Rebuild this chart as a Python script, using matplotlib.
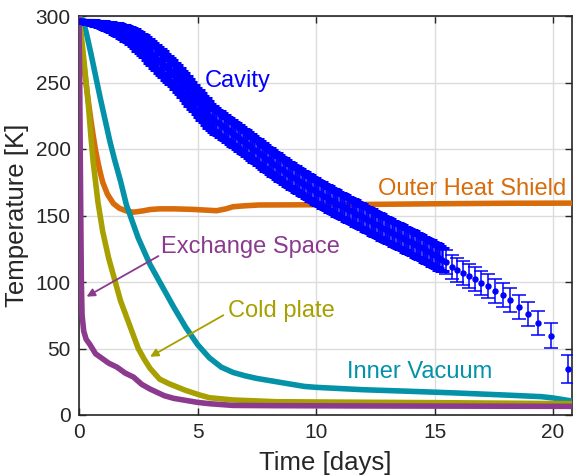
import matplotlib
matplotlib.use('Agg')
import matplotlib.pyplot as plt

plt.rcParams['font.family'] = ['Liberation Sans', 'DejaVu Sans']

# Cavity: measured points with error bars
t_cav = [0.0, 0.1, 0.2, 0.3, 0.4, 0.5, 0.6, 0.7, 0.8, 0.9,
         1.0, 1.1, 1.2, 1.3, 1.4, 1.5, 1.6, 1.7, 1.8, 1.9,
         2.0, 2.1, 2.2, 2.3, 2.4, 2.5, 2.6, 2.7, 2.8, 2.9,
         3.0, 3.1, 3.2, 3.3, 3.4, 3.5, 3.6, 3.7, 3.8, 3.9,
         4.0, 4.1, 4.2, 4.3, 4.4, 4.5, 4.6, 4.7, 4.8, 4.9,
         5.0, 5.1, 5.2, 5.3, 5.4, 5.5, 5.6, 5.7, 5.8, 5.9,
         6.0, 6.1, 6.2, 6.3, 6.4, 6.5, 6.6, 6.7, 6.8, 6.9,
         7.0, 7.1, 7.2, 7.3, 7.4, 7.5, 7.6, 7.7, 7.8, 7.9,
         8.0, 8.1, 8.2, 8.3, 8.4, 8.5, 8.6, 8.7, 8.8, 8.9,
         9.0, 9.1, 9.2, 9.3, 9.4, 9.5, 9.6, 9.7, 9.8, 9.9,
         10.0, 10.1, 10.2, 10.3, 10.4, 10.5, 10.6, 10.7, 10.8, 10.9,
         11.0, 11.1, 11.2, 11.3, 11.4, 11.5, 11.6, 11.7, 11.8, 11.9,
         12.0, 12.1, 12.2, 12.3, 12.4, 12.5, 12.6, 12.7, 12.8, 12.9,
         13.0, 13.1, 13.2, 13.3, 13.4, 13.5, 13.6, 13.7, 13.8, 13.9,
         14.0, 14.1, 14.2, 14.3, 14.4, 14.5, 14.6, 14.7, 14.8, 14.9,
         15.0, 15.1, 15.2, 15.3,
         15.49, 15.72, 15.96, 16.2, 16.44, 16.72, 16.97, 17.26, 17.57, 17.88,
         18.2, 18.57, 18.93, 19.38, 19.9, 20.65]
T_cav = [296, 296, 296, 295.8, 295.6, 295.3, 295, 294.7, 294.4, 294,
         293.5, 293.0, 292.5, 292.0, 291.4, 290.8, 290.1, 289.4, 288.6, 287.8,
         287.0, 285.9, 284.8, 283.6, 282.3, 281.0, 279.6, 278.1, 276.5, 274.8,
         273.0, 271.3, 269.6, 267.9, 266.2, 264.5, 262.8, 261.1, 259.4, 257.7,
         256.0, 254.0, 252.0, 250.0, 247.9, 245.8, 243.7, 241.6, 239.4, 237.2,
         235.0, 233.0, 231.0, 229.0, 227.0, 225.0, 223.5, 222.0, 220.6, 219.3,
         218.0, 216.7, 215.4, 214.1, 212.8, 211.5, 210.2, 208.9, 207.6, 206.3,
         205.0, 203.6, 202.3, 200.9, 199.6, 198.2, 196.9, 195.5, 194.2, 192.8,
         191.5, 190.2, 189.0, 187.7, 186.5, 185.2, 184.0, 182.7, 181.5, 180.2,
         179.0, 177.9, 176.8, 175.7, 174.6, 173.5, 172.4, 171.3, 170.2, 169.1,
         168.0, 167.0, 166.0, 165.0, 164.0, 163.0, 162.0, 161.0, 160.0, 159.0,
         158.0, 157.0, 156.1, 155.1, 154.2, 153.2, 152.3, 151.3, 150.4, 149.4,
         148.5, 147.5, 146.6, 145.6, 144.7, 143.7, 142.8, 141.8, 140.9, 139.9,
         139.0, 138.1, 137.2, 136.3, 135.4, 134.5, 133.6, 132.7, 131.8, 130.9,
         130.0, 129.0, 128.1, 127.1, 126.2, 125.2, 124.3, 123.3, 122.4, 121.4,
         120.5, 119.3, 118.1, 116.9,
         115, 111.5, 109.3, 107, 104.5, 102, 99.5, 96.7, 93.5, 90,
         86.2, 81.4, 76.2, 69.4, 59.6, 34.6]
err_cav = [0.5, 0.7, 0.9, 1.1, 1.3, 1.5, 1.7, 1.9, 2.1, 2.3,
           2.5, 2.8, 3.1, 3.4, 3.7, 4.0, 4.3, 4.6, 4.9, 5.2,
           5.5, 5.8, 6.1, 6.4, 6.7, 7.0, 7.2, 7.4, 7.6, 7.8,
           8.0, 8.2, 8.4, 8.6, 8.8, 9, 9, 9, 9, 9,
           9, 9, 9, 9, 9, 9, 9, 9, 9, 9,
           9, 9, 9, 9, 9, 9, 9, 9, 9, 9,
           9, 9, 9, 9, 9, 9, 9, 9, 9, 9,
           9, 9, 9, 9, 9, 9, 9, 9, 9, 9,
           9, 9, 9, 9, 9, 9, 9, 9, 9, 9,
           9, 9, 9, 9, 9, 9, 9, 9, 9, 9,
           9, 9, 9, 9, 9, 9, 9, 9, 9, 9,
           9, 9, 9, 9, 9, 9, 9, 9, 9, 9,
           9, 9, 9, 9, 9, 9, 9, 9, 9, 9,
           9, 9, 9, 9, 9, 9, 9, 9, 9, 9,
           9, 9, 9, 9, 9, 9, 9, 9, 9, 9,
           9, 9, 9, 9,
           9, 9, 9, 9, 9, 9, 9, 9, 9, 9,
           9, 9, 9, 9, 9.2, 10.5]

# Outer heat shield
t_ohs = [0, 0.1, 0.2, 0.3, 0.4, 0.5, 0.6, 0.7, 0.8, 0.9, 1.0, 1.2, 1.45, 1.7,
         2.0, 2.3, 2.7, 3.0, 3.4, 4.0, 4.8, 5.4, 5.8, 6.2, 6.5, 7.0, 7.6, 9.0,
         12.0, 15.0, 18.0, 20.8]
T_ohs = [298, 280, 264, 249, 235, 222, 210, 199, 190, 182, 175, 166, 159, 155.5,
         153.4, 152.5, 153.5, 154.5, 155, 155, 154.6, 154, 153.6, 155, 156.6, 157.3, 157.9, 158,
         158.3, 158.8, 159.2, 159.3]

# Inner vacuum
t_iv = [0, 0.15, 0.3, 0.5, 0.7, 0.9, 1.1, 1.3, 1.5, 1.75, 2.0, 2.5, 3.0, 3.5,
        4.0, 4.5, 5.0, 5.5, 6.0, 6.5, 7.0, 7.5, 8.0, 8.5, 9.0, 9.5, 10.0,
        12.0, 14.0, 16.0, 18.0, 19.5, 20.0, 20.8]
T_iv = [299, 297, 288, 272, 255, 238, 222, 206, 192, 176, 158, 133, 113, 97,
        81, 66, 53, 43, 36, 32, 29.5, 27.5, 26, 24.5, 23, 21.5, 20.8,
        19, 17.8, 16.5, 15, 13.8, 12.8, 10.5]

# Cold plate
t_cp = [0, 0.1, 0.2, 0.3, 0.4, 0.5, 0.6, 0.8, 1.0, 1.25, 1.5, 1.75, 2.0, 2.25,
        2.5, 2.75, 3.0, 3.4, 3.8, 4.5, 5.1, 5.5, 6.5, 8.3, 10.0, 15.0, 20.8]
T_cp = [298, 285, 268, 250, 232, 210, 190, 160, 138, 118, 102, 86, 74, 62,
        50, 42, 35, 27, 23.5, 18.5, 15, 13, 11.3, 10, 9.8, 9.3, 8.5]

# Exchange space
t_es = [0, 0.03, 0.06, 0.09, 0.1, 0.13, 0.2, 0.3, 0.46, 0.7, 0.9, 1.25, 1.6,
        1.95, 2.3, 2.65, 3.0, 3.3, 3.6, 4.0, 4.5, 5.0, 5.5, 6.5, 8.3, 12.0, 20.8]
T_es = [298, 250, 180, 120, 100, 75, 63, 57, 53, 46, 43.5, 39, 36,
        31.5, 28.5, 23, 19.5, 17, 14.5, 12.5, 11, 9.5, 8.5, 7.2, 7.0, 6.8, 6.5]

c_cav = '#0000ff'
c_ohs = '#d86c0a'
c_iv = '#0392a8'
c_cp = '#a7a000'
c_es = '#8b3a8e'
axis_col = '#262626'

fig = plt.figure(figsize=(5.74, 4.75), dpi=100)
ax = fig.add_axes([79 / 574, 60 / 475, 493 / 574, 399 / 475])

lw = 4.0
ax.plot(t_ohs, T_ohs, color=c_ohs, lw=lw, zorder=3)
ax.plot(t_iv, T_iv, color=c_iv, lw=lw, zorder=3)
ax.plot(t_cp, T_cp, color=c_cp, lw=lw, zorder=3)
ax.plot(t_es, T_es, color=c_es, lw=lw, zorder=3)

# dense part of the cavity series looks like a solid ribbon
n_dense = 154
ax.errorbar(t_cav[:n_dense], T_cav[:n_dense], yerr=err_cav[:n_dense], fmt='o',
            color=c_cav, ms=3.6, elinewidth=1.8, capsize=4.7, capthick=2.2,
            zorder=4)
ax.errorbar(t_cav[n_dense:], T_cav[n_dense:], yerr=err_cav[n_dense:], fmt='o',
            color=c_cav, ms=3.6, elinewidth=1.1, capsize=4.7, capthick=1.1,
            zorder=4)

fs = 17
ax.text(5.32, 246.6, 'Cavity', color=c_cav, fontsize=fs, zorder=6)
ax.text(12.6, 165.4, 'Outer Heat Shield', color=c_ohs, fontsize=fs, zorder=6)
ax.text(3.45, 121.8, 'Exchange Space', color=c_es, fontsize=fs, zorder=6)
ax.text(6.27, 74, 'Cold plate', color=c_cp, fontsize=fs, zorder=6)
ax.text(11.3, 27.8, 'Inner Vacuum', color=c_iv, fontsize=fs, zorder=6)

ax.annotate('', xy=(0.32, 89), xytext=(3.35, 119.5), zorder=6,
            arrowprops=dict(arrowstyle='-|>', color=c_es, lw=1.3,
                            mutation_scale=12, shrinkA=0, shrinkB=0))
ax.annotate('', xy=(3.0, 43.8), xytext=(6.09, 75), zorder=6,
            arrowprops=dict(arrowstyle='-|>', color=c_cp, lw=1.3,
                            mutation_scale=12, shrinkA=0, shrinkB=0))

ax.set_xlim(0, 20.8)
ax.set_ylim(0, 300)
ax.set_xticks([0, 5, 10, 15, 20])
ax.set_yticks([0, 50, 100, 150, 200, 250, 300])
ax.grid(True, color='#dcdcdc', lw=1.0)
ax.set_axisbelow(True)
ax.tick_params(direction='in', top=True, right=True, length=5, width=1.0,
               colors=axis_col, labelsize=15, pad=6)
for s in ax.spines.values():
    s.set_color(axis_col)
    s.set_linewidth(1.2)

ax.set_xlabel('Time [days]', fontsize=18.5, color=axis_col, labelpad=6)
ax.set_ylabel('Temperature [K]', fontsize=18.5, color=axis_col, labelpad=5)

fig.savefig('out.png', dpi=100)
